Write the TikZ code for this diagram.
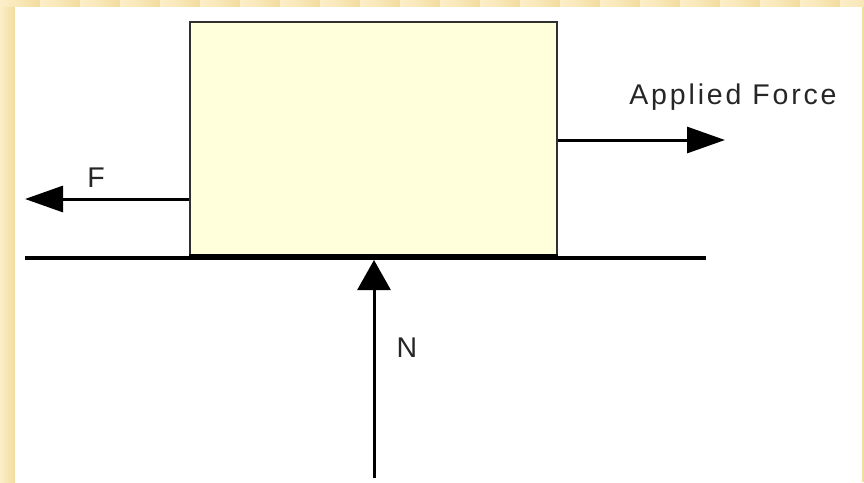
\documentclass[tikz,border=0pt]{standalone}
\usepackage{fontspec}
\setmainfont{Liberation Sans}
\usetikzlibrary{arrows.meta}

\definecolor{frameA}{HTML}{F2DC9E}
\definecolor{frameB}{HTML}{FCEEC8}
\definecolor{blockfill}{HTML}{FFFFDC}
\definecolor{blockedge}{HTML}{303030}

\tikzset{
  force/.style={line width=3pt, -{Triangle[length=38pt, width=26pt]}},
  label/.style={font=\fontsize{28.5}{28.5}\selectfont\addfontfeature{LetterSpace=10}, text=black!85, inner sep=0pt},
  block/.style={draw=blockedge, line width=2.5pt, fill=blockfill,
    minimum width=367pt, minimum height=233pt, inner sep=0pt},
}

\begin{document}
\begin{tikzpicture}[x=1pt, y=-1pt]
  \useasboundingbox (0,0) rectangle (864,482);
  % slide frame
  \fill[frameB] (0,0) rectangle (864,482);
  \foreach \i in {0,...,21} {
    \shade[left color=frameB, right color=frameA, middle color=frameB!60!frameA]
      (\i*40,0) rectangle (\i*40+40,7);
  }
  \shade[left color=frameB, right color=frameA] (0,7) rectangle (15,482);
  \fill[white] (15,7) rectangle (862,482);
  \fill[frameA] (862,7) rectangle (864,482);

  % block resting on the floor
  \node[block] (box) at (373.5,138.5) {};
  \draw[line width=4pt, black] (box.south west) -- (box.south east);

  % floor
  \coordinate (floorL) at (25,258);
  \coordinate (floorR) at (706,258);
  \draw[line width=4pt, black] (floorL) -- (floorR);

  % applied force
  \coordinate (appTip) at (725,140);
  \draw[force] (box.east |- appTip) -- (appTip);
  \node[label] (applied) at (733,97) {Applied Force};

  % friction
  \coordinate (fTip) at (25,199);
  \draw[force] (box.west |- fTip) -- (fTip);
  \node[label] (flab) at (96,178) {F};

  % normal force
  \coordinate (nBase) at (374,478);
  \coordinate (nTip) at (374,260);
  \draw[line width=3pt, -{Triangle[length=30pt, width=33pt]}] (nBase) -- (nTip);
  \node[label] (nlab) at (407,348) {N};
\end{tikzpicture}
\end{document}
